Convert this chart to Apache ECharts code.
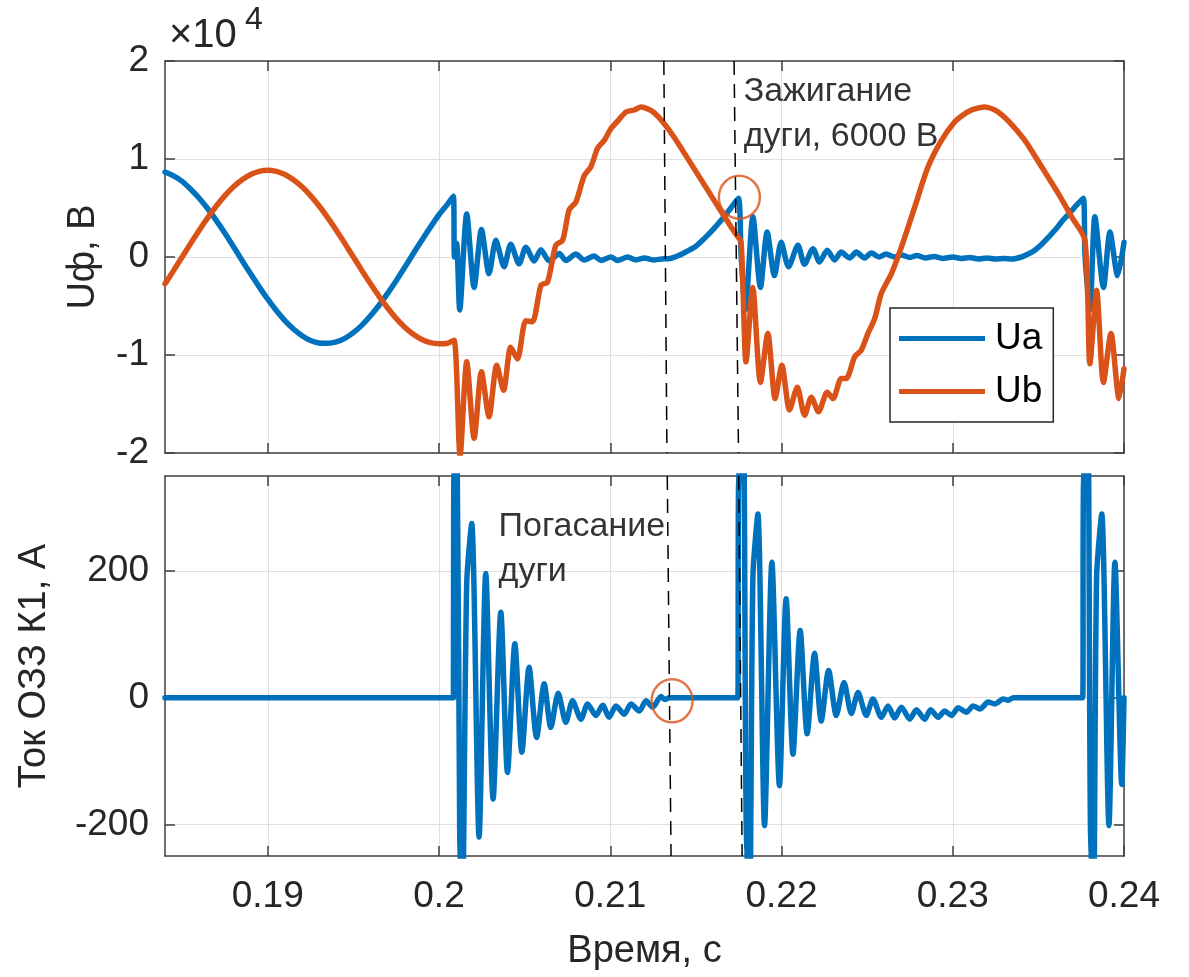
<!DOCTYPE html>
<html><head><meta charset="utf-8">
<script src="https://cdn.jsdelivr.net/npm/echarts@6/dist/echarts.min.js"></script>
<style>html,body{margin:0;padding:0;background:#fff}#c{width:1189px;height:977px}</style>
</head><body><div id="c"></div>
<script>
// ---------------- data ----------------
const xTicks = [0.19, 0.2, 0.21, 0.22, 0.23, 0.24];
const iTicks = [-200, 0, 200];

const uaT = [0.1840,0.1845,0.1850,0.1855,0.1860,0.1865,0.1870,0.1875,0.1880,0.1885,0.1890,0.1895,0.1900,0.1905,0.1910,0.1915,0.1920,0.1925,0.1930,0.1935,0.1940,0.1945,0.1950,0.1955,0.1960,0.1965,0.1970,0.1975,0.1980,0.1985,0.1990,0.1995,0.2000,0.2005,0.20084,0.20090,0.20103,0.20121,0.20162,0.20205,0.20248,0.20292,0.20332,0.20380,0.20419,0.20468,0.20507,0.20556,0.20595,0.20643,0.20702,0.20741,0.20799,0.20848,0.20906,0.20946,0.21004,0.21043,0.21102,0.21150,0.2120,0.2125,0.2130,0.2135,0.2140,0.2145,0.2150,0.2155,0.2160,0.2165,0.2170,0.21748,0.21764,0.21789,0.21833,0.21877,0.21916,0.21959,0.21998,0.22041,0.22096,0.22134,0.22184,0.22222,0.22267,0.22310,0.22349,0.22398,0.22437,0.22485,0.22525,0.2257,0.2261,0.2266,0.2270,0.2275,0.2279,0.2284,0.2289,0.2294,0.2300,0.2305,0.2310,0.2315,0.2320,0.2325,0.2330,0.23344,0.23401,0.23440,0.23479,0.23520,0.23558,0.23600,0.23636,0.23675,0.23713,0.23762,0.23772,0.23801,0.23830,0.23880,0.23918,0.23963,0.24000];
const uaV = [8670,8270,7720,6920,6000,4920,3710,2420,1050,-350,-1720,-3050,-4310,-5460,-6490,-7350,-8030,-8520,-8780,-8810,-8670,-8300,-7720,-6950,-6000,-4920,-3710,-2420,-1050,350,1720,3050,4310,5400,6200,0,1400,-5400,4400,-3100,2800,-1700,1700,-1000,1300,-700,1000,-400,750,-400,350,-350,300,-300,100,-350,0,-350,0,-300,-100,-300,-200,-150,150,600,1100,1900,2800,3800,4900,6000,300,-5400,4100,-3100,2550,-1900,1500,-1000,1200,-750,850,-500,700,-300,500,-100,500,-100,400,0,300,0,200,-50,150,-100,50,-150,0,-150,-50,-200,-100,-200,-150,-200,0,300,700,1300,2000,2800,3600,4350,5100,6000,300,-5400,4100,-3100,2550,-1900,1500];

const ubT = [0.1840,0.1845,0.1850,0.1855,0.1860,0.1865,0.1870,0.1875,0.1880,0.1885,0.1890,0.1895,0.1900,0.1905,0.1910,0.1915,0.1920,0.1925,0.1930,0.1935,0.1940,0.1945,0.1950,0.1955,0.1960,0.1965,0.1970,0.1975,0.1980,0.1985,0.1990,0.1995,0.2000,0.2005,0.20088,0.20123,0.20162,0.20205,0.20248,0.20292,0.20337,0.20377,0.20419,0.20458,0.20507,0.20546,0.20595,0.20634,0.20682,0.20722,0.20760,0.20799,0.20848,0.20887,0.20926,0.20965,0.21004,0.21050,0.21092,0.21140,0.21180,0.21220,0.21257,0.21306,0.21374,0.21472,0.21570,0.21667,0.21735,0.21764,0.21793,0.21832,0.21877,0.21920,0.21963,0.22002,0.22047,0.22092,0.22135,0.22174,0.22216,0.22267,0.22301,0.22349,0.22378,0.22427,0.22466,0.22505,0.22544,0.22583,0.22642,0.22700,0.22778,0.22856,0.22934,0.23012,0.23060,0.23109,0.23150,0.23187,0.23225,0.23265,0.23324,0.23421,0.23519,0.23616,0.23694,0.23772,0.23801,0.23840,0.23880,0.23924,0.23971,0.24000];
const ubV = [-2735,-1390,0,1390,2735,4020,5200,6260,7160,7880,8420,8740,8850,8740,8420,7880,7160,6260,5200,4020,2735,1390,0,-1390,-2735,-4020,-5200,-6260,-7160,-7880,-8420,-8740,-8850,-8800,-8500,-20300,-10700,-18500,-11700,-16300,-11050,-13600,-9200,-10400,-6500,-6600,-2900,-2550,1200,1700,4800,5600,8300,9200,11100,11900,13100,14000,14800,15000,15300,15100,14700,13800,12200,9500,6800,4100,2300,1500,-10700,-3100,-12800,-7800,-14450,-11050,-15600,-13300,-16150,-14300,-15800,-13800,-14450,-12400,-12400,-10200,-9500,-7800,-6300,-3700,-1700,1000,5100,9200,11900,13800,14500,15000,15200,15300,15150,14800,13900,11900,9200,6500,4100,1700,-10900,-3400,-12800,-7800,-14450,-11400];

const iT = [0.1840,0.20084,0.20086,0.20104,0.20121,0.20136,0.20162,0.20191,0.20234,0.20273,0.20316,0.20361,0.20400,0.20443,0.20484,0.20526,0.20570,0.20614,0.20653,0.20696,0.20741,0.20780,0.20829,0.20868,0.20916,0.20956,0.20994,0.21033,0.21082,0.21121,0.21170,0.21209,0.21248,0.21296,0.21320,0.21345,0.21745,0.21749,0.21776,0.21794,0.21814,0.21833,0.21862,0.21901,0.21944,0.21988,0.22027,0.22067,0.22109,0.22150,0.22193,0.22232,0.22275,0.22320,0.22365,0.22408,0.22447,0.22495,0.22534,0.22583,0.22622,0.22661,0.22700,0.22749,0.22788,0.22836,0.22871,0.22915,0.22953,0.22992,0.23032,0.23080,0.23119,0.23158,0.23207,0.23246,0.23295,0.23324,0.23353,0.23759,0.23763,0.23788,0.23804,0.23822,0.23840,0.23870,0.23912,0.23947,0.23987,0.24000];
const iV = [0,0,330,450,-215,-340,182,275,-220,196,-160,135,-118,85,-86,48,-63,22,-47,7,-39,-5,-34,-10,-28,-12,-31,-13,-26,-10,-21,-5,-15,2,-3,0,0,330,450,-202,-330,190,290,-202,214,-139,156,-89,106,-57,70,-37,43,-28,24,-25,8,-28,-2,-31,-13,-32,-15,-34,-19,-34,-19,-31,-21,-28,-16,-23,-13,-18,-7,-10,-2,-4,0,0,330,450,-202,-330,190,290,-202,214,-137,0];

// annotations (data coordinates)
const dashTop = [[[0.21313, 20000], [0.21331, -20000]], [[0.21723, 20000], [0.21749, -20000]]];
const dashBot = [[[0.21333, 350], [0.21355, -250]], [[0.21750, 350], [0.21770, -250]]];
const circTop = [[0.21754, 6100]];
const circBot = [[0.21361, -5]];
const noteTop = {pos: [0.21776, 14560], text: 'Зажигание\nдуги, 6000 В'};
const noteBot = {pos: [0.20345, 234], text: 'Погасание\nдуги'};

// ---------------- chart ----------------
const FONT = "'Liberation Sans', Arial, Helvetica, sans-serif";
const AX = '#404040', TXT = '#262626', GRID = '#dfdfdf';
const BLUE = '#0072BD', ORANGE = '#D95319';
const zip = (t, v) => t.map((x, i) => [x, v[i]]);

function xAx(grid, pos, labels, name) {
  return {
    type: 'value', gridIndex: grid, position: pos, min: 0.184, max: 0.24,
    axisLine: {show: true, onZero: false, lineStyle: {color: AX, width: 1.5}},
    axisTick: {show: true, inside: true, length: 10, customValues: xTicks, lineStyle: {color: AX, width: 1.5}},
    axisLabel: {show: labels, customValues: xTicks, fontSize: 37, fontFamily: FONT, color: TXT, margin: 22,
      formatter: v => String(+v.toFixed(3))},
    splitLine: {show: pos === 'bottom', lineStyle: {color: GRID, width: 1}},
    name: name || '', nameLocation: 'middle', nameGap: 77,
    nameTextStyle: {fontSize: 38, fontFamily: FONT, color: TXT}
  };
}
function yAxU(pos, labels) {
  return {
    type: 'value', gridIndex: 0, position: pos, min: -20000, max: 20000, interval: 10000,
    axisLine: {show: true, onZero: false, lineStyle: {color: AX, width: 1.5}},
    axisTick: {show: true, inside: true, length: 10, lineStyle: {color: AX, width: 1.5}},
    axisLabel: {show: labels, fontSize: 37, fontFamily: FONT, color: TXT, margin: 16, formatter: v => String(v / 10000)},
    splitLine: {show: pos === 'left', lineStyle: {color: GRID, width: 1}},
    name: labels ? 'Uф, В' : '', nameLocation: 'middle', nameGap: 62,
    nameTextStyle: {fontSize: 38, fontFamily: FONT, color: TXT}
  };
}
function yAxI(pos, labels) {
  return {
    type: 'value', gridIndex: 1, position: pos, min: -250, max: 350,
    axisLine: {show: true, onZero: false, lineStyle: {color: AX, width: 1.5}},
    axisTick: {show: true, inside: true, length: 10, customValues: iTicks, lineStyle: {color: AX, width: 1.5}},
    axisLabel: {show: labels, customValues: iTicks, fontSize: 37, fontFamily: FONT, color: TXT, margin: 16},
    splitLine: {show: pos === 'left', lineStyle: {color: GRID, width: 1}},
    name: labels ? 'Ток ОЗЗ К1, А' : '', nameLocation: 'middle', nameGap: 111,
    nameTextStyle: {fontSize: 38, fontFamily: FONT, color: TXT}
  };
}
const dashStyle = {color: '#000', width: 1.5, type: [14, 9]};
function circSeries(xi, yi, data, dashes, note) {
  return [{
    type: 'scatter', xAxisIndex: xi, yAxisIndex: yi, data: data, z: 10, silent: true,
    symbol: 'circle', symbolSize: [41, 43],
    itemStyle: {color: 'rgba(0,0,0,0)', borderColor: ORANGE, borderWidth: 2.5},
    markLine: {symbol: ['none', 'none'], silent: true, animation: false, label: {show: false},
      lineStyle: dashStyle, emphasis: {disabled: true},
      data: dashes.map(d => [{coord: d[0]}, {coord: d[1]}])}
  }, {
    type: 'scatter', xAxisIndex: xi, yAxisIndex: yi, data: [note.pos], z: 11, silent: true,
    symbolSize: 1, itemStyle: {color: 'rgba(0,0,0,0)'},
    label: {show: true, position: 'right', distance: 0, formatter: note.text, fontSize: 34,
      lineHeight: 45, fontFamily: FONT, color: '#000', align: 'left', verticalAlign: 'middle'}
  }];
}
const lineOpts = (color) => ({
  showSymbol: false, silent: true, smooth: 0.25,
  lineStyle: {color: color, width: 5.5, join: 'round', cap: 'round'}, itemStyle: {color: color}
});

const chart = echarts.init(document.getElementById('c'), null, {renderer: 'canvas'});
chart.setOption({
  animation: false,
  backgroundColor: '#fff',
  textStyle: {fontFamily: FONT},
  grid: [
    {left: 165, top: 61, width: 959, height: 392},
    {left: 165, top: 476, width: 959, height: 380}
  ],
  xAxis: [xAx(0, 'bottom', false), xAx(0, 'top', false), xAx(1, 'bottom', true, 'Время, с'), xAx(1, 'top', false)],
  yAxis: [yAxU('left', true), yAxU('right', false), yAxI('left', true), yAxI('right', false)],
  legend: {
    data: ['Ua', 'Ub'], orient: 'vertical', left: 890, top: 308, icon: 'rect',
    itemWidth: 86, itemHeight: 5, itemGap: 16, padding: [12, 11, 12, 9],
    borderColor: '#262626', borderWidth: 1.5, backgroundColor: '#fff', selectedMode: false,
    textStyle: {fontSize: 37, fontFamily: FONT, color: '#000', padding: [0, 0, 0, 5]}
  },
  graphic: [
    {type: 'text', left: 169, top: 16, style: {text: '×10', fontSize: 40, fontFamily: FONT, fill: TXT}},
    {type: 'text', left: 245, top: 4, style: {text: '4', fontSize: 32, fontFamily: FONT, fill: TXT}}
  ],
  series: [
    Object.assign({name: 'Ua', type: 'line', xAxisIndex: 0, yAxisIndex: 0, data: zip(uaT, uaV)}, lineOpts(BLUE)),
    Object.assign({name: 'Ub', type: 'line', xAxisIndex: 0, yAxisIndex: 0, data: zip(ubT, ubV)}, lineOpts(ORANGE)),
    Object.assign({name: 'I', type: 'line', xAxisIndex: 2, yAxisIndex: 2, data: zip(iT, iV)}, lineOpts(BLUE)),
    ...circSeries(0, 0, circTop, dashTop, noteTop),
    ...circSeries(2, 2, circBot, dashBot, noteBot)
  ]
});
</script></body></html>
